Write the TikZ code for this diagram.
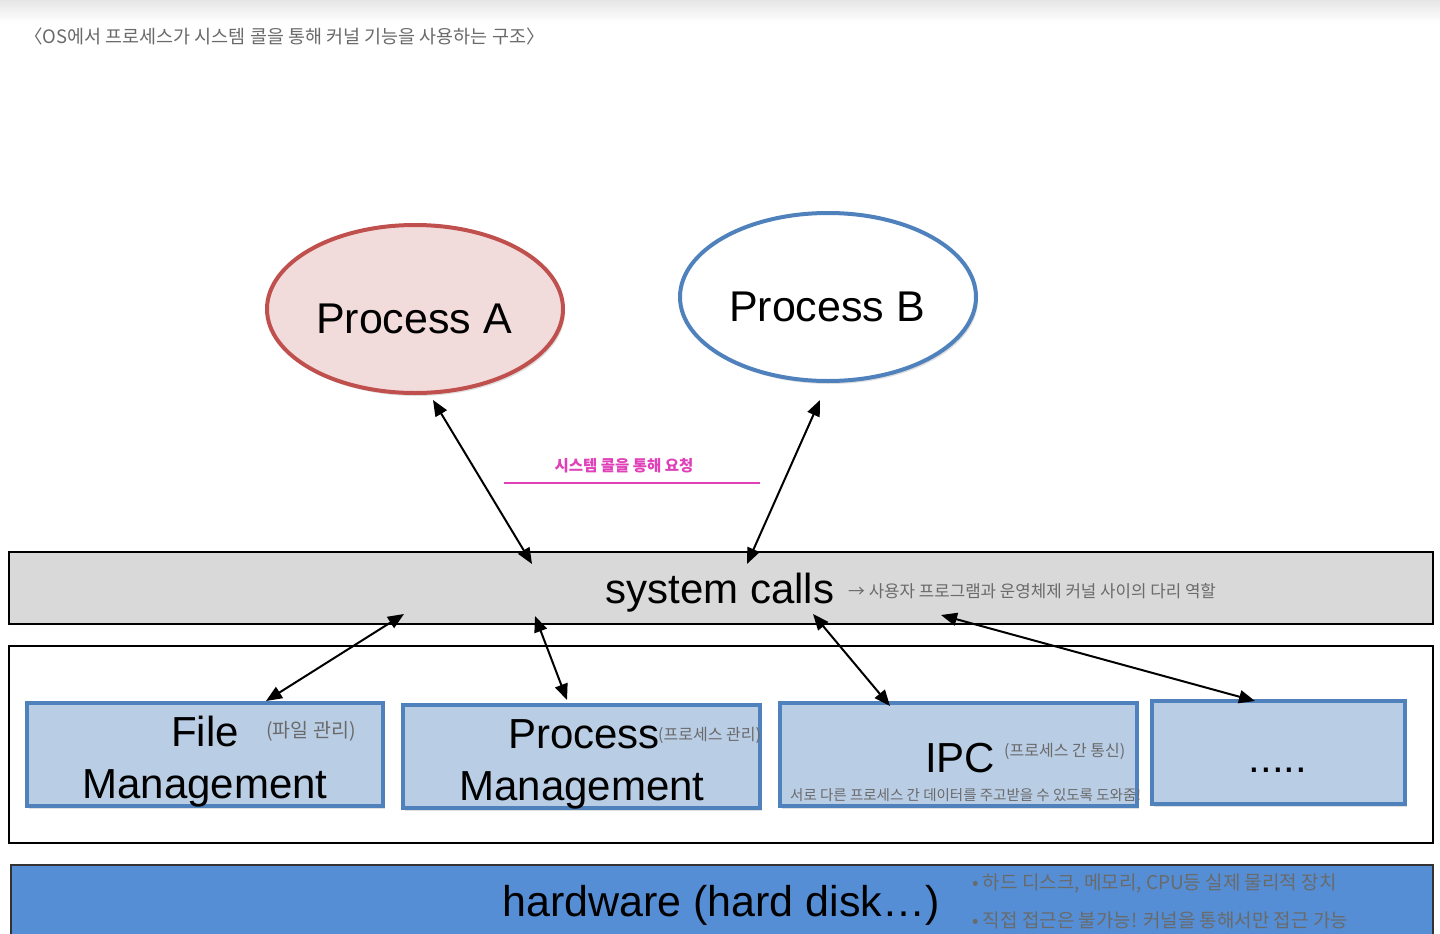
\documentclass[tikz,border=0pt]{standalone}
\usepackage{fontspec}
\setmainfont{Liberation Sans}
\newfontfamily\kr{Noto Sans CJK KR}
\usetikzlibrary{shapes.geometric,arrows.meta,shadows}
\definecolor{redB}{HTML}{C0504D}
\definecolor{pinkF}{HTML}{F2DCDB}
\definecolor{blueB}{HTML}{4F81BD}
\definecolor{boxF}{HTML}{B9CDE5}
\definecolor{scF}{HTML}{D9D9D9}
\definecolor{hwF}{HTML}{558ED5}
\definecolor{magentaL}{HTML}{E040B8}
\definecolor{hand}{HTML}{6A6A6A}
\tikzset{
  proc/.style={ellipse, line width=4pt, minimum width=296pt, minimum height=168pt, inner sep=0pt,
     drop shadow={shadow xshift=2pt, shadow yshift=-3pt, opacity=0.25, fill=gray}},
  ptext/.style={font=\fontsize{43}{46}\selectfont, inner sep=0pt},
  band/.style={draw=black, line width=1.5pt, inner sep=0pt},
  kbox/.style={draw=blueB, fill=boxF, line width=3.5pt, inner sep=0pt,
     drop shadow={shadow xshift=2pt, shadow yshift=-3pt, opacity=0.25, fill=gray}},
  big/.style={font=\fontsize{42}{45}\selectfont, inner sep=0pt, anchor=base},
  note/.style={font=\kr\fontsize{17}{20}\selectfont, text=hand, inner sep=0pt},
  dbl/.style={line width=2pt, {Triangle[length=16pt,width=13pt]}-{Triangle[length=16pt,width=13pt]}},
}
\begin{document}
\begin{tikzpicture}[x=1pt,y=-1pt]
\useasboundingbox (0,0) rectangle (1440,934);
\fill[white] (0,0) rectangle (1440,934);
\shade[top color=black!10, bottom color=white] (0,0) rectangle (1440,22);

% title
\node[note, font=\kr\fontsize{18.5}{22}\selectfont, anchor=west] (title) at (24,36) {〈OS에서 프로세스가 시스템 콜을 통해 커널 기능을 사용하는 구조〉};

% processes
\node[proc, draw=redB, fill=pinkF] (pa) at (415,309) {};
\node[ptext] (pat) at (414,319) {Process A};
\node[proc, draw=blueB, fill=white] (pb) at (828,297) {};
\node[ptext] (pbt) at (827,307) {Process B};

% system calls band
\node[band, fill=scF, minimum width=1424pt, minimum height=72pt] (sc) at (721,588) {};
\node[font=\fontsize{42}{45}\selectfont, inner sep=0pt] (sct) at (720,593) {system calls};
\node[note, anchor=west, font=\kr\fontsize{16.8}{19}\selectfont] (scn) at (848,591) {→ 사용자 프로그램과 운영체제 커널 사이의 다리 역할};

% request label
\node[font=\kr\bfseries\fontsize{15.5}{18}\selectfont, text=magentaL, inner sep=0pt] (req) at (624,466) {시스템 콜을 통해 요청};
\coordinate (rl1) at (504,483);
\coordinate (rl2) at (760,483);
\draw[magentaL, line width=1.5pt] (rl1) -- (rl2);

% kernel outline
\node[band, fill=white, minimum width=1424pt, minimum height=197pt] (kern) at (721,744.5) {};

% kernel boxes
\node[kbox, minimum width=356pt, minimum height=103pt] (fm) at (205,754.5) {};
\node[kbox, minimum width=357pt, minimum height=103pt] (pm) at (581.5,756.5) {};
\node[kbox, minimum width=357pt, minimum height=103pt] (ipc) at (958.5,754.5) {};
\node[kbox, minimum width=253pt, minimum height=103pt] (etc) at (1278.5,752.5) {};

\node[big] (fm1) at (205,746) {File};
\node[big] (fm2) at (205,798) {Management};
\node[note, font=\kr\fontsize{19.5}{22}\selectfont] (fmn) at (311,731) {(파일 관리)};

\node[big, anchor=base west] (pm1) at (508,748) {Process};
\node[big] (pm2) at (582,800) {Management};
\node[note, font=\kr\fontsize{16}{19}\selectfont, anchor=west] (pmn) at (658,735) {(프로세스 관리)};

\node[big, anchor=base west] (ip1) at (925,772) {IPC};
\node[note, font=\kr\fontsize{16}{19}\selectfont, anchor=west] (ipn) at (1004,751) {(프로세스 간 통신)};
\node[note, font=\kr\fontsize{14.5}{17}\selectfont, anchor=west] (ipd) at (790,795) {서로 다른 프로세스 간 데이터를 주고받을 수 있도록 도와줌!};

\node[big] (et1) at (1278,772) {.....};

% hardware
\node[draw=black!80, line width=1.5pt, fill=hwF, minimum width=1422pt, minimum height=90pt, inner sep=0pt] (hw) at (722,910) {};
\node[font=\fontsize{43}{46}\selectfont, inner sep=0pt] (hwt) at (721,905) {hardware (hard disk…)};
\node[note, font=\kr\fontsize{19}{22}\selectfont, anchor=west] (hw1) at (972,883) {• 하드 디스크, 메모리, CPU등 실제 물리적 장치};
\node[note, font=\kr\fontsize{19}{22}\selectfont, anchor=west] (hw2) at (972,920) {• 직접 접근은 불가능! 커널을 통해서만 접근 가능};

% arrows processes <-> system calls
\coordinate (a1) at (433,400);
\coordinate (a2) at (532,564);
\coordinate (b1) at (820,400);
\coordinate (b2) at (747,564);
\draw[dbl] (a1) -- (a2);
\draw[dbl] (b1) -- (b2);

% arrows system calls <-> kernel boxes
\coordinate (s1) at (404,614);
\coordinate (s2) at (535,616);
\coordinate (s3) at (813,614);
\coordinate (s4) at (941,615);
\coordinate (f1) at (266,701);
\coordinate (p1) at (567,700);
\coordinate (i1) at (890,706);
\coordinate (e1) at (1255,701);
\draw[dbl] (s1) -- (f1);
\draw[dbl] (s2) -- (p1);
\draw[dbl] (s3) -- (i1);
\draw[dbl] (s4) -- (e1);
\end{tikzpicture}
\end{document}
